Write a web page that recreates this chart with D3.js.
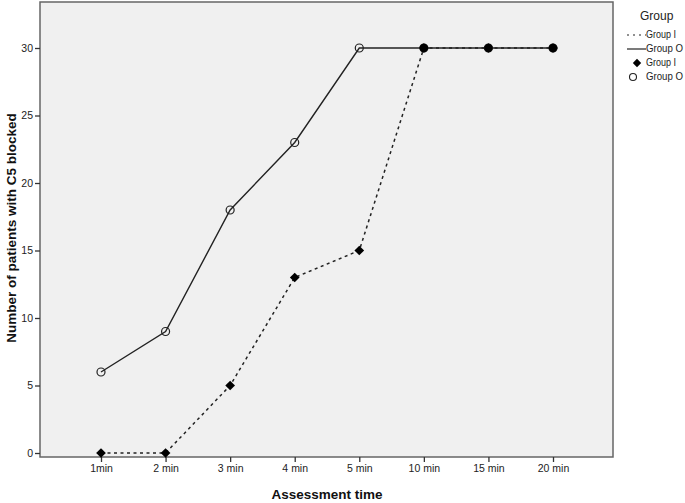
<!DOCTYPE html>
<html><head><meta charset="utf-8">
<script src="https://cdn.jsdelivr.net/npm/d3@7"></script>
<style>body{margin:0;background:#fff}svg{display:block}text{font-family:Arial,"Liberation Sans",sans-serif}</style>
</head><body>
<svg id="c" width="685" height="503"></svg>
<script>
const categories = ["1min","2 min","3 min","4 min","5 min","10 min","15 min","20 min"];
const groupI = [0,0,5,13,15,30,30,30];
const groupO = [6,9,18,23,30,30,30,30];
const yTicks = [0,5,10,15,20,25,30];

const svg = d3.select("#c");
const L=40, T=2, R=613, B=457;
svg.append("rect").attr("x",L).attr("y",T).attr("width",R-L).attr("height",B-T)
  .attr("fill","#f0f0f0").attr("stroke","#666").attr("stroke-width",1.5);

const x = d3.scalePoint().domain(categories).range([101,553]);
const y = d3.scaleLinear().domain([0,30]).range([453,48]);

const ya = svg.append("g").attr("transform",`translate(${L},0)`)
  .call(d3.axisLeft(y).tickValues(yTicks).tickSize(5).tickSizeOuter(0).tickPadding(2));
ya.select(".domain").remove();
ya.selectAll("line").attr("stroke","#333").attr("stroke-width",1.3);
ya.selectAll("text").attr("font-size",10.5).attr("fill","#222");

const xa = svg.append("g").attr("transform",`translate(0,${B})`)
  .call(d3.axisBottom(x).tickSize(5).tickSizeOuter(0).tickPadding(3));
xa.select(".domain").remove();
xa.selectAll("line").attr("stroke","#333").attr("stroke-width",1.3);
xa.selectAll("text").attr("font-size",10.5).attr("fill","#222");

const line = d3.line().x((d,i)=>x(categories[i])).y(d=>y(d));
svg.append("path").datum(groupI).attr("d",line).attr("fill","none")
  .attr("stroke","#222").attr("stroke-width",1.5).attr("stroke-dasharray","3,3.5");
svg.append("path").datum(groupO).attr("d",line).attr("fill","none")
  .attr("stroke","#222").attr("stroke-width",1.4);

const diamond = d3.symbol().type(d3.symbolDiamond2).size(60);
svg.append("g").selectAll("path").data(groupI).join("path")
  .attr("d",diamond).attr("transform",(d,i)=>`translate(${x(categories[i])},${y(d)})`)
  .attr("fill","#000");
svg.append("g").selectAll("circle").data(groupO).join("circle")
  .attr("cx",(d,i)=>x(categories[i])).attr("cy",d=>y(d)).attr("r",4)
  .attr("fill","none").attr("stroke","#222").attr("stroke-width",1.2);
svg.append("g").selectAll("circle").data(groupO.map((d,i)=>({d,i})).filter(o=>o.d===groupI[o.i])).join("circle")
  .attr("cx",o=>x(categories[o.i])).attr("cy",o=>y(o.d)).attr("r",4.2).attr("fill","#000");

svg.append("text").attr("x",327).attr("y",499).attr("text-anchor","middle")
  .attr("font-size",13.5).attr("font-weight","bold").attr("fill","#111").text("Assessment time");
svg.append("text").attr("transform","translate(16,228) rotate(-90)").attr("text-anchor","middle")
  .attr("font-size",13.5).attr("font-weight","bold").attr("fill","#111").text("Number of patients with C5 blocked");

const lg = svg.append("g");
lg.append("text").attr("x",640).attr("y",20).attr("font-size",12).attr("fill","#222").text("Group");
const lx=627;
lg.append("line").attr("x1",lx).attr("x2",lx+19).attr("y1",35).attr("y2",35)
  .attr("stroke","#222").attr("stroke-width",1).attr("stroke-dasharray","2,4");
lg.append("line").attr("x1",lx).attr("x2",lx+19).attr("y1",49).attr("y2",49)
  .attr("stroke","#222").attr("stroke-width",1.2);
lg.append("path").attr("d",d3.symbol().type(d3.symbolDiamond2).size(45)).attr("transform","translate(637,63)").attr("fill","#000");
lg.append("circle").attr("cx",633).attr("cy",77).attr("r",3.5).attr("fill","none").attr("stroke","#222").attr("stroke-width",1.1);
const legTexts=[["Group I",646,38,30],["Group O",646,52,37],["Group I",646,66,30],["Group O",646,80,37]];
legTexts.forEach(t=>lg.append("text").attr("x",t[1]).attr("y",t[2]).attr("font-size",10.5)
  .attr("textLength",t[3]).attr("lengthAdjust","spacingAndGlyphs").attr("fill","#222").text(t[0]));
</script>
</body></html>
